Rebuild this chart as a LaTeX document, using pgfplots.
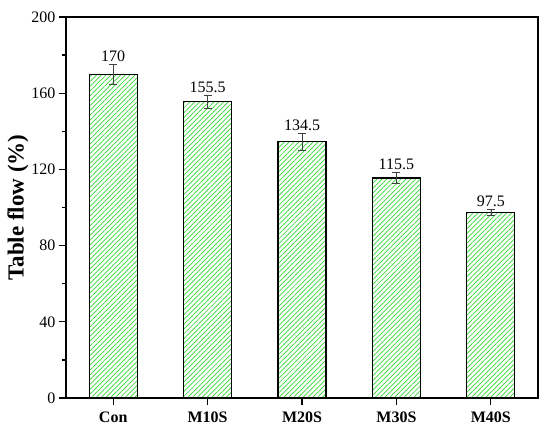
\documentclass[border=0pt]{standalone}
\usepackage{pgfplots}
\pgfplotsset{compat=1.18}
\usepackage{pgfplotstable}
\usepackage{fontspec}
\setmainfont{Liberation Serif}
\usetikzlibrary{patterns.meta}
\definecolor{hatch}{RGB}{50,215,50}
\pgfplotstableread{
x y err label
0 170 5.2 170
1 155.5 3.5 155.5
2 134.5 4.5 134.5
3 115.5 3.0 115.5
4 97.5 1.6 97.5
}\flowdata
\begin{document}
\begin{tikzpicture}
\begin{axis}[name=ax,
  scale only axis, width=472pt, height=381pt,
  xmin=-0.5, xmax=4.5, ymin=0, ymax=200,
  xtick={0,1,2,3,4}, xticklabels={Con,M10S,M20S,M30S,M40S},
  ytick={0,40,80,120,160,200}, minor ytick={20,60,100,140,180},
  tick align=outside, xtick pos=bottom, ytick pos=left,
  axis line style={line width=1.6pt},
  major tick length=7pt, minor tick length=4pt,
  every tick/.style={line width=1.2pt, black},
  ticklabel style={font=\fontsize{16}{18}\selectfont},
  xticklabel style={font=\fontsize{16}{18}\selectfont\bfseries, yshift=-3pt},
  /pgf/number format/assume math mode=true,
  ylabel={\fontsize{23}{26}\selectfont\bfseries Table flow (\%)},
  ylabel style={yshift=-4pt},
]
\addplot[ybar, bar width=48pt, draw=black, line width=1.2pt,
  pattern={Lines[angle=45,distance=3.4pt,line width=0.7pt]}, pattern color=hatch,
  error bars/.cd, y dir=both, y explicit,
  error bar style={line width=0.6pt, black!75},
  error mark options={rotate=90, mark size=4pt, line width=0.6pt, black!75}]
  table[x=x, y=y, y error=err] {\flowdata};
\addplot[draw=none, mark=none, nodes near coords, point meta=explicit symbolic,
  nodes near coords style={font=\fontsize{16}{18}\selectfont, anchor=south, yshift=-1pt}]
  table[x=x, y expr=\thisrow{y}+\thisrow{err}, meta=label] {\flowdata};
\end{axis}
\pgfresetboundingbox
\path ([shift={(-66pt,-38pt)}]ax.south west) rectangle ([shift={(12pt,17pt)}]ax.north east);
\end{tikzpicture}
\end{document}
